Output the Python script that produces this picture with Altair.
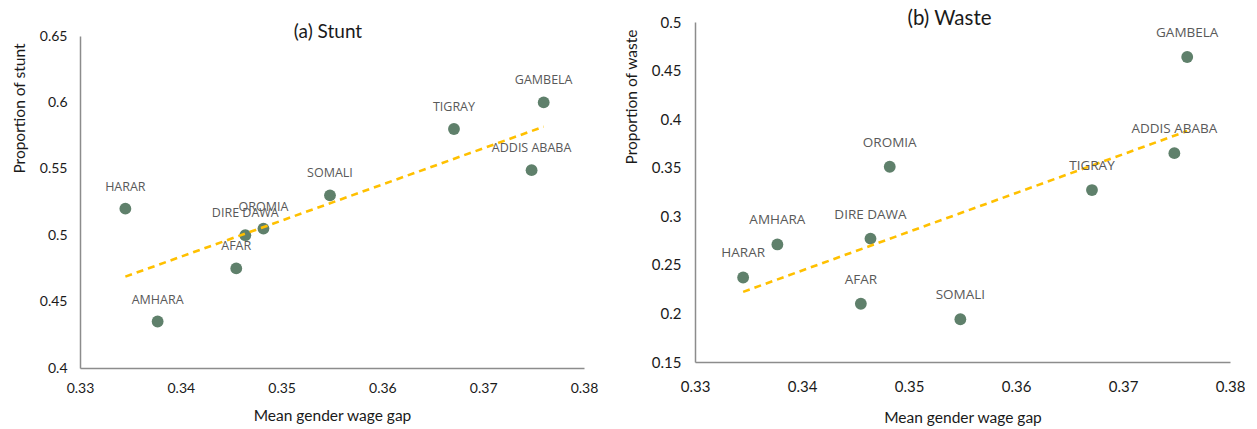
import altair as alt
import pandas as pd

regions = ["HARAR", "AMHARA", "AFAR", "DIRE DAWA", "OROMIA", "SOMALI", "TIGRAY", "ADDIS ABABA", "GAMBELA"]
wage_gap = [0.3345, 0.3377, 0.3455, 0.3464, 0.3482, 0.3548, 0.3671, 0.3748, 0.3760]
stunt = [0.520, 0.435, 0.475, 0.500, 0.505, 0.530, 0.580, 0.549, 0.600]
waste = [0.237, 0.271, 0.210, 0.277, 0.351, 0.194, 0.327, 0.365, 0.464]

x_ticks = [0.33, 0.34, 0.35, 0.36, 0.37, 0.38]
stunt_ticks = [0.4, 0.45, 0.5, 0.55, 0.6, 0.65]
waste_ticks = [0.15, 0.2, 0.25, 0.3, 0.35, 0.4, 0.45, 0.5]

AX_FONT = "Lato"
TXT = "#1a1a1a"


def panel(values, ticks, ytitle, title_text, w, h, label_dy, label_size,
          tick_size, xlab_pad, xtitle_pad, ylab_pad, title_size, title_offset, title_dx):
    df = pd.DataFrame({"region": regions, "gap": wage_gap, "val": values})
    base = alt.Chart(df)
    x = alt.X(
        "gap:Q",
        scale=alt.Scale(domain=[x_ticks[0], x_ticks[-1]], nice=False, zero=False),
        axis=alt.Axis(
            values=x_ticks, format=".2f", title="Mean gender wage gap",
            ticks=False, grid=False, domainColor="#8c8c8c", domainWidth=1.5,
            labelFont=AX_FONT, labelFontSize=tick_size, labelColor=TXT,
            labelFlush=False, labelPadding=xlab_pad,
            titleFont=AX_FONT, titleFontSize=15.5,
            titleFontWeight="normal", titleColor=TXT, titlePadding=xtitle_pad,
        ),
    )
    y = alt.Y(
        "val:Q",
        scale=alt.Scale(domain=[ticks[0], ticks[-1]], nice=False, zero=False),
        axis=alt.Axis(
            values=ticks, format=".2~f", title=ytitle,
            ticks=False, grid=False, domainColor="#8c8c8c", domainWidth=1.5,
            labelFont=AX_FONT, labelFontSize=tick_size, labelColor=TXT,
            labelFlush=False, labelPadding=ylab_pad,
            titleFont=AX_FONT, titleFontSize=15.5,
            titleFontWeight="normal", titleColor=TXT, titlePadding=12,
            titleAnchor="end", titleAlign="right", titleY=7,
        ),
    )
    pts = base.mark_circle(size=140, color="#5F806B", opacity=1).encode(x=x, y=y)
    trend = (
        base.transform_regression("gap", "val")
        .mark_line(color="#FFC000", strokeDash=[7, 5], strokeWidth=2.6)
        .encode(x=x, y=y)
    )
    lbl = base.mark_text(
        dy=label_dy, fontSize=label_size, font="Open Sans", color="#595959"
    ).encode(x=x, y=y, text="region:N")
    return alt.layer(pts, trend, lbl).properties(
        width=w,
        height=h,
        title=alt.TitleParams(
            text=title_text, font=AX_FONT, fontSize=title_size, fontWeight="normal",
            color=TXT, anchor="middle", frame="group", offset=title_offset, dx=title_dx,
        ),
    )


left = panel(stunt, stunt_ticks, "Proportion of stunt", "(a) Stunt", 504, 332,
             -22, 12.5, 14, 13, 13, 13, 19, -13, -4)
right = panel(waste, waste_ticks, "Proportion of waste", "(b) Waste", 535, 340,
              -24, 13.5, 15, 17, 16, 14, 20.5, -14, -13)

# invisible spacer that pushes the left panel down relative to the right one
spacer = (
    alt.Chart(pd.DataFrame({"s": [0]}))
    .mark_point(size=1, opacity=0)
    .encode(x=alt.X("s:Q", axis=None), y=alt.Y("s:Q", axis=None))
    .properties(width=1, height=1)
)

left_col = alt.vconcat(spacer, left, spacing=0)

chart = (
    alt.hconcat(left_col, right, spacing=26)
    .properties(padding={"left": 4, "top": 0, "right": 0, "bottom": 0})
    .configure_view(stroke=None)
)

chart.save("out.html", embed_options={"renderer": "svg", "actions": False})
